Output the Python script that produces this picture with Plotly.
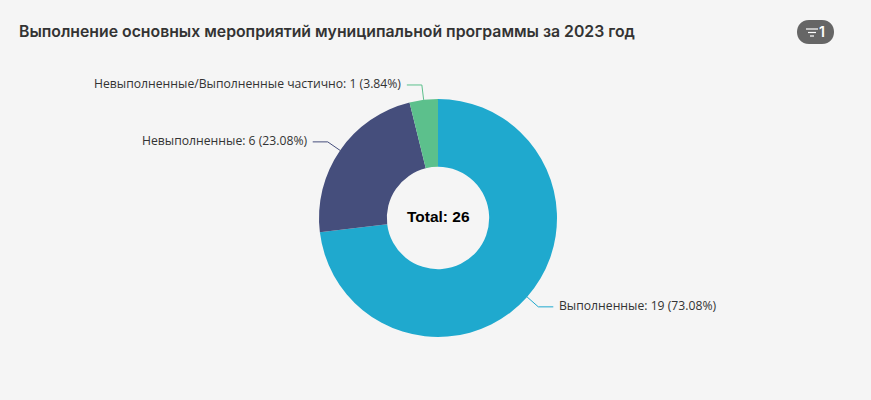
import math
import plotly.graph_objects as go

W, H = 871, 400

categories = ["Выполненные", "Невыполненные", "Невыполненные/Выполненные частично"]
values = [19, 6, 1]
percents = [73.08, 23.08, 3.84]
colors = ["#1fa9ce", "#454e7c", "#5cc08c"]

title_text = "Выполнение основных мероприятий муниципальной программы за 2023 год"
total_text = "Total: 26"
badge_text = "1"

# pie geometry in page pixels
cx, cy, radius = 438, 218, 119
hole = 0.43


def px_x(x):
    return x / W


def px_y(y):
    return 1 - y / H


fig = go.Figure(go.Pie(
    labels=categories, values=values,
    marker=dict(colors=colors, line=dict(width=0)),
    hole=hole, sort=False, direction="clockwise", rotation=0,
    textinfo="none", hoverinfo="label+value+percent", showlegend=False,
    domain=dict(x=[px_x(cx - radius), px_x(cx + radius)],
                y=[px_y(cy + radius), px_y(cy - radius)]),
))

shapes = []
annotations = []

# leader lines and labels, placed from the slice angles
running = 0
for name, val, pct, col in zip(categories, values, percents, colors):
    mid = (running + val / 2) / sum(values) * 2 * math.pi
    running += val
    x0, y0 = cx + radius * math.sin(mid), cy - radius * math.cos(mid)
    x1, y1 = cx + (radius + 15) * math.sin(mid), cy - (radius + 15) * math.cos(mid)
    side = 1 if math.sin(mid) > 0 else -1
    x2 = x1 + side * 15
    path = f"M {px_x(x0)} {px_y(y0)} L {px_x(x1)} {px_y(y1)} L {px_x(x2)} {px_y(y1)}"
    shapes.append(dict(type="path", xref="paper", yref="paper", path=path,
                       line=dict(color=col, width=1)))
    annotations.append(dict(
        x=px_x(x2 + side * 3.5), y=px_y(y1 - 1), xref="paper", yref="paper",
        text=f"{name}: {val} ({pct}%)", showarrow=False,
        xanchor="left" if side > 0 else "right", yanchor="middle",
        font=dict(family="Open Sans", size=12.2, color="#333333"),
    ))

annotations.append(dict(
    x=px_x(cx), y=px_y(cy - 1.5), xref="paper", yref="paper", text=total_text, showarrow=False,
    xanchor="center", yanchor="middle",
    font=dict(family="Liberation Sans", size=15.5, color="#000000", weight="bold"),
))

# filter badge top right
shapes.append(dict(type="path", xref="paper", yref="paper", fillcolor="#666666", line=dict(width=0),
                   path=f"M {px_x(809)} {px_y(20)} L {px_x(822)} {px_y(20)} "
                        f"C {px_x(838)} {px_y(20)} {px_x(838)} {px_y(44)} {px_x(822)} {px_y(44)} "
                        f"L {px_x(809)} {px_y(44)} "
                        f"C {px_x(793)} {px_y(44)} {px_x(793)} {px_y(20)} {px_x(809)} {px_y(20)} Z"))
for x_a, x_b, y_l in [(806, 818, 29), (808, 816, 32.5), (810, 814, 36)]:
    shapes.append(dict(type="line", xref="paper", yref="paper",
                       x0=px_x(x_a), x1=px_x(x_b), y0=px_y(y_l), y1=px_y(y_l),
                       line=dict(color="#ffffff", width=1.2)))
annotations.append(dict(
    x=px_x(822), y=px_y(31.5), xref="paper", yref="paper", text=badge_text, showarrow=False,
    xanchor="center", yanchor="middle",
    font=dict(family="Inter", size=14, color="#ffffff", weight=600),
))

fig.update_layout(
    width=W, height=H, margin=dict(l=0, r=0, t=0, b=0),
    paper_bgcolor="#f5f5f5", plot_bgcolor="#f5f5f5",
    title=dict(text=title_text, x=px_x(19), xanchor="left", y=px_y(31), yanchor="middle",
               font=dict(family="Inter", size=15.8, color="#333333", weight=600)),
    shapes=shapes, annotations=annotations,
)

# drop the default page margin so the chart fills the window
fig.write_html("out.html", config=dict(displayModeBar=False),
               post_script="document.body.style.margin='0';document.body.style.overflow='hidden';")
